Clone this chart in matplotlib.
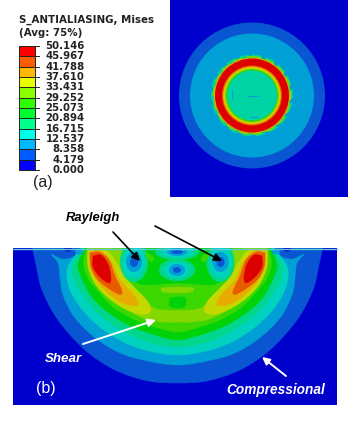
import matplotlib
matplotlib.use('Agg')
import matplotlib.pyplot as plt
from matplotlib.patches import Circle, Ellipse, Rectangle, PathPatch
from matplotlib.path import Path

# legend
legend_title = 'S_ANTIALIASING, Mises'
legend_sub = '(Avg: 75%)'
levels = ['50.146', '45.967', '41.788', '37.610', '33.431', '29.252', '25.073',
          '20.894', '16.715', '12.537', '8.358', '4.179', '0.000']
level_colors = ['#ff0000', '#ff5c00', '#ffb900', '#e8ff00', '#8bff00', '#2eff00',
                '#00ff2e', '#00ff8b', '#00ffe8', '#00b9ff', '#005cff', '#0000ff']

# plot colours (same spectrum, darker in the viewport)
BG = '#0000cd'
C1, C2, C3, C4, C5, C6 = '#0a55d2', '#009fd6', '#00d2c0', '#00d68c', '#00d20a', '#3cd600'
C7, C8, C9, C10, C11 = '#84d800', '#c4d800', '#e8ac00', '#e85c00', '#dc0000'

# (a) ring radii, outside to inside
ring_radii = [73, 62, 38.5, 38, 37, 30, 29, 28, 26.5, 25]
ring_colors = [C1, C2, C6, C9, C11, C10, C9, C8, C6, '#00d4a4']
ring_cx, ring_cy = 252, 95.5

# (b) half outlines, left side, image pixels; mirrored round x = 177.5
band1 = [(32, 246), (36, 265), (42, 290), (58, 320), (85, 350), (115, 370), (148, 381), (177.5, 383)]
band2 = [(81, 246), (78, 252), (73, 257), (62, 259), (51, 254), (58, 263), (60, 278), (63, 295),
         (75, 318), (98, 340), (125, 355), (158, 363), (177.5, 365)]
band3 = [(84, 246), (74, 257), (67, 270), (70, 290), (85, 313), (108, 333), (138, 348), (177.5, 355)]
band4 = [(85, 246), (76, 258), (72, 268), (75, 282), (80, 290), (95, 310), (118, 328), (148, 342), (177.5, 347)]
band5 = [(86, 246), (80, 258), (78, 268), (84, 283), (92, 297), (105, 310), (128, 325), (155, 335), (177.5, 340)]
band6 = [(87, 246), (84, 258), (84, 268), (89, 280), (97, 290), (113, 307), (135, 320), (158, 328), (177.5, 332)]
band7 = [(88, 246), (88, 268), (94, 280), (105, 295), (122, 307), (142, 317), (162, 322), (177.5, 322)]
inner_green = [(112, 246), (118, 268), (130, 285), (142, 296), (155, 308), (177.5, 310)]
inner_c5 = [(122, 246), (126, 272), (140, 284), (160, 284), (177.5, 283)]
halo = [(88, 250), (90, 268), (100, 284), (118, 302), (135, 314), (152, 321), (157, 316),
        (147, 305), (132, 288), (122, 272), (122, 254), (122, 249)]
lobe1 = [(88, 250), (88, 265), (96, 285), (115, 303), (138, 314), (150, 312), (148, 302),
         (135, 288), (125, 277), (115, 260), (105, 250)]
lobe2 = [(89, 252), (91, 270), (103, 288), (122, 303), (138, 305), (134, 295), (120, 280),
         (112, 263), (101, 251)]
lobe3 = [(90, 253), (91, 267), (99, 281), (118, 294), (122, 291), (115, 276), (109, 260),
         (99, 252)]
lobe4 = [(93, 256), (93, 267), (100, 277), (109, 283), (111, 277), (108, 264), (101, 255)]
mid_patch = [(161, 288), (177.5, 287), (193, 288), (191, 292), (177.5, 293), (163, 292)]
low_patch = [(170, 298), (177.5, 297), (185, 298), (185, 306), (177.5, 308), (170, 306)]
top_patch = [(147, 252), (154, 258), (151, 262), (146, 256)]

# surface spots: x, y and ring half widths / heights
spots_x = [134, 220.5, 177, 177]
spots_y = [262, 262, 252, 270]
spot_w = [[14, 11, 8, 4], [14, 11, 8, 4], [22, 16, 10, 6], [18, 13, 8, 4]]
spot_h = [[20, 16, 10, 5], [20, 16, 10, 5], [8, 6, 4, 2], [11, 8, 6, 3]]
spot_colors = [C4, C3, C2, C1]
small_spots_x = [68, 79, 276, 287]
small_spots_y = [249, 252, 252, 249]

PANEL_B = (13, 248, 324, 157)
AXIS_X = 177.5


def both_sides(pts):
    right = [(2 * AXIS_X - x, y) for x, y in reversed(pts[:-1])]
    return pts + right


def smooth_patch(pts, color, z=2):
    # open spline through the points, closed with a straight edge
    verts = [pts[0]]
    codes = [Path.MOVETO]
    n = len(pts)
    for i in range(n - 1):
        p0 = pts[max(i - 1, 0)]
        p1 = pts[i]
        p2 = pts[i + 1]
        p3 = pts[min(i + 2, n - 1)]
        c1 = (p1[0] + (p2[0] - p0[0]) / 6, p1[1] + (p2[1] - p0[1]) / 6)
        c2 = (p2[0] - (p3[0] - p1[0]) / 6, p2[1] - (p3[1] - p1[1]) / 6)
        verts += [c1, c2, p2]
        codes += [Path.CURVE4] * 3
    verts.append(pts[0])
    codes.append(Path.CLOSEPOLY)
    return PathPatch(Path(verts, codes), fc=color, ec=color, lw=0.3, zorder=z)


fig = plt.figure(figsize=(3.59, 4.22), dpi=100)
ax = fig.add_axes([0, 0, 1, 1])
ax.set_xlim(0, 359)
ax.set_ylim(422, 0)
ax.axis('off')

# legend bar
bar_top, bar_step = 46, 124 / 12
for i, col in enumerate(level_colors):
    ax.add_patch(Rectangle((19, bar_top + i * bar_step), 16, bar_step, fc=col, ec='#222222', lw=0.7))
for i, lab in enumerate(levels):
    y = bar_top + i * bar_step
    ax.plot([35, 39], [y, y], color='#222222', lw=0.7)
    ax.text(84.5, y, lab, ha='right', va='center', fontsize=7.3, fontweight='bold', color='#222222')
ax.text(19, 20, legend_title, ha='left', va='center', fontsize=7.4, fontweight='bold', color='#222222')
ax.text(19, 33, legend_sub, ha='left', va='center', fontsize=7.4, fontweight='bold', color='#222222')
ax.text(33, 182, '(a)', ha='left', va='center', fontsize=11.5, family='Liberation Sans', color='#222222')

# panel (a)
ax.add_patch(Rectangle((170, 0), 178, 197, fc=BG, ec='none'))
for r, col in zip(ring_radii, ring_colors):
    ax.add_patch(Circle((ring_cx, ring_cy), r, fc=col, ec='none'))
ax.add_patch(Circle((ring_cx, ring_cy), 39.5, fc='none', ec=C4, lw=2, ls=(0, (3.4, 1.6))))
ax.add_patch(Circle((ring_cx, ring_cy), 38.8, fc='none', ec=C7, lw=0.9, ls=(0, (7.6, 3.6))))
ax.plot([248, 258], [96, 96], color=C2, lw=0.9)
ax.plot([250, 258], [117, 117], color=C2, lw=0.8)
ax.plot([232, 232], [90, 98], color=C2, lw=0.6)

# panel (b)
ax.add_patch(Rectangle(PANEL_B[:2], PANEL_B[2], PANEL_B[3], fc=BG, ec='none', zorder=1))
for band, col in zip([band1, band2, band3, band4, band5, band6, band7, inner_green, inner_c5],
                     [C1, C2, C3, C4, C5, C6, C7, C6, C5]):
    ax.add_patch(smooth_patch(both_sides(band), col))
for lobe, col in zip([halo, lobe1, lobe2, lobe3, lobe4], [C7, C8, C9, C10, C11]):
    ax.add_patch(smooth_patch(lobe + [lobe[0]], col, z=3))
    ax.add_patch(smooth_patch([(2 * AXIS_X - x, y) for x, y in lobe + [lobe[0]]], col, z=3))
ax.add_patch(smooth_patch(mid_patch + [mid_patch[0]], C7))
ax.add_patch(smooth_patch(low_patch + [low_patch[0]], C5))
for sx, sy, ws, hs in zip(spots_x, spots_y, spot_w, spot_h):
    for w, h, col in zip(ws, hs, spot_colors):
        ax.add_patch(Ellipse((sx, sy), 2 * w, 2 * h, fc=col, ec='none', zorder=4))
for tp in [top_patch, [(2 * AXIS_X - x, y) for x, y in top_patch]]:
    ax.add_patch(smooth_patch(tp + [tp[0]], C6, z=4))
for sx, sy in zip(small_spots_x, small_spots_y):
    ax.add_patch(Ellipse((sx, sy), 8, 5, fc=C2 if sy > 250 else BG, ec='none', zorder=4))
# clip everything at the surface and add the light top line
ax.add_patch(Rectangle((13, 238), 324, 10, fc='white', ec='none', zorder=5))
ax.plot([13, 337], [248.5, 248.5], color='#5fc8d8', lw=1, zorder=6)

# annotations
ax.annotate('', xy=(140, 261), xytext=(113, 232), zorder=7,
            arrowprops=dict(arrowstyle='-|>', color='black', lw=1.2, mutation_scale=12, shrinkA=0, shrinkB=0))
ax.annotate('', xy=(222, 261), xytext=(155, 226), zorder=7,
            arrowprops=dict(arrowstyle='-|>', color='black', lw=1.2, mutation_scale=12, shrinkA=0, shrinkB=0))
ax.annotate('', xy=(156, 320), xytext=(83, 344), zorder=7,
            arrowprops=dict(arrowstyle='-|>', color='white', lw=1.4, mutation_scale=12, shrinkA=0, shrinkB=0))
ax.annotate('', xy=(262, 357), xytext=(286, 376), zorder=7,
            arrowprops=dict(arrowstyle='-|>', color='white', lw=1.4, mutation_scale=11, shrinkA=0, shrinkB=0))

ax.text(93, 218, 'Rayleigh', ha='center', va='center', fontsize=9.4, fontweight='bold',
        style='italic', family='Liberation Sans', color='black', zorder=8)
ax.text(63, 359, 'Shear', ha='center', va='center', fontsize=9.6, fontweight='bold',
        style='italic', family='Liberation Sans', color='white', zorder=8)
ax.text(275.5, 390, 'Compressional', ha='center', va='center', fontsize=9.8, fontweight='bold',
        style='italic', family='Liberation Sans', color='white', zorder=8)
ax.text(36, 388, '(b)', ha='left', va='center', fontsize=11.5, family='Liberation Sans',
        color='white', zorder=8)

fig.savefig('out.png', dpi=100)
